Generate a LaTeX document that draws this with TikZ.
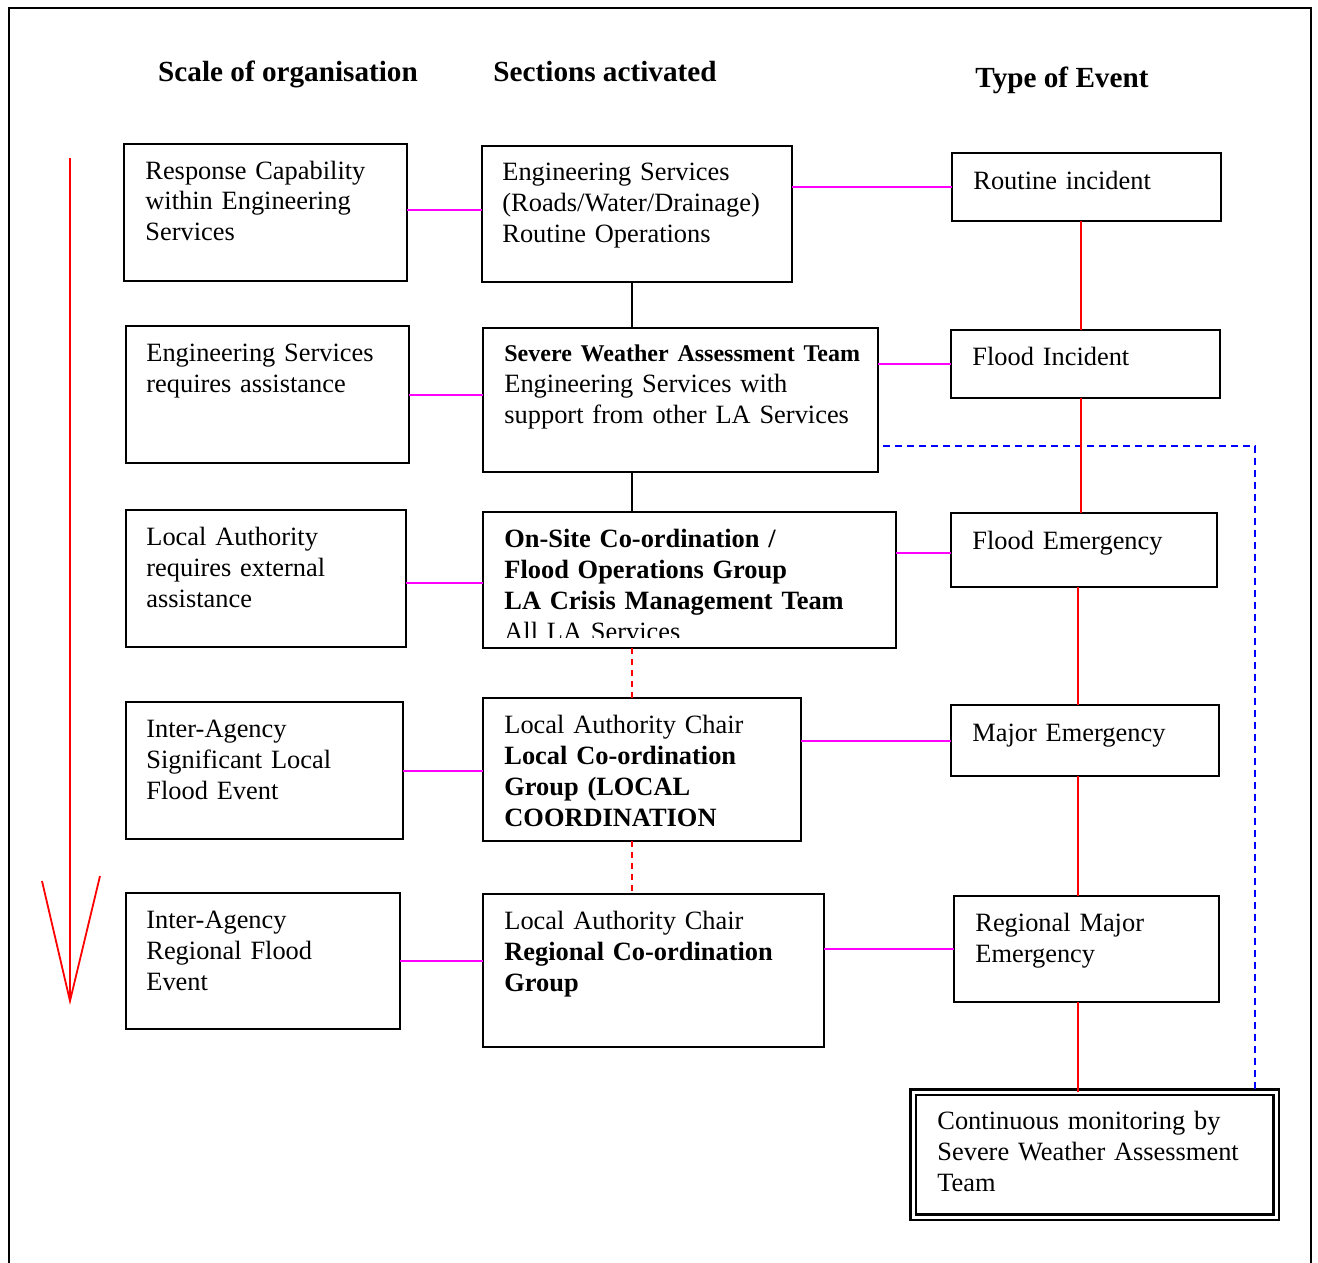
\documentclass[tikz,border=0pt]{standalone}
\usepackage{fontspec}
\setmainfont{Liberation Serif}
\usetikzlibrary{calc}
\definecolor{cLink}{RGB}{255,0,255}
\definecolor{cEvt}{RGB}{255,0,0}
\definecolor{cMon}{RGB}{0,0,255}
\newcommand{\boxfont}{\fontsize{13.2}{15.5}\selectfont}
\newcommand{\headfont}{\fontsize{14.6}{17}\selectfont\bfseries}
\tikzset{
  box/.style  ={draw=black,line width=1pt,anchor=north west,inner sep=0pt,outer sep=0pt},
  dbox/.style ={box,double=white,double distance=1.5pt,line width=1.1pt},
  txt/.style  ={anchor=base west,align=left,text width=200pt,inner sep=0pt,font=\boxfont},
  hdr/.style  ={anchor=base,inner sep=0pt,font=\headfont},
  link/.style ={draw=cLink,line width=1pt},
  stem/.style ={draw=black,line width=1pt},
  evt/.style  ={draw=cEvt,line width=0.9pt},
  rdash/.style={evt,dash pattern=on 3pt off 2.5pt},
  bdash/.style={draw=cMon,line width=0.9pt,dash pattern=on 3.5pt off 2.5pt},
}

\begin{document}
\begin{tikzpicture}[x=0.5pt,y=-0.5pt]
\useasboundingbox (0,0) rectangle (1318,1263);
\draw[line width=1.2pt] (9,1263) -- (9,8) -- (1311,8) -- (1311,1263);

% column headings
\node[hdr] (h1) at (288,82) {Scale of organisation};
\node[hdr] (h2) at (605,82) {Sections activated};
\node[hdr] (h3) at (1062,88) {Type of Event};

% scale of organisation
\node[box,minimum width=141.5pt,minimum height=68.5pt] (L1) at (124,144) {};
\node[txt] (L1t) at ([xshift=10.5pt,yshift=-17.5pt]L1.north west)
  {Response Capability\\within Engineering\\Services};
\node[box,minimum width=141.5pt,minimum height=68.5pt] (L2) at (126,326) {};
\node[txt] (L2t) at ([xshift=10pt,yshift=-17.5pt]L2.north west)
  {Engineering Services\\requires assistance};
\node[box,minimum width=140pt,minimum height=68.5pt] (L3) at (126,510) {};
\node[txt] (L3t) at ([xshift=10pt,yshift=-17.5pt]L3.north west)
  {Local Authority\\requires external\\assistance};
\node[box,minimum width=138.5pt,minimum height=68.5pt] (L4) at (126,702) {};
\node[txt] (L4t) at ([xshift=10pt,yshift=-17.5pt]L4.north west)
  {Inter-Agency\\Significant Local\\Flood Event};
\node[box,minimum width=137pt,minimum height=68pt] (L5) at (126,893) {};
\node[txt] (L5t) at ([xshift=10pt,yshift=-17.5pt]L5.north west)
  {Inter-Agency\\Regional Flood\\Event};

% sections activated
\node[box,minimum width=155pt,minimum height=68pt] (M1) at (482,146) {};
\node[txt] (M1t) at ([xshift=10pt,yshift=-17.5pt]M1.north west)
  {Engineering Services\\(Roads/Water/Drainage)\\Routine Operations};
\node[box,minimum width=197.5pt,minimum height=72pt] (M2) at (483,328) {};
\node[txt] (M2t) at ([xshift=10.5pt,yshift=-16.5pt]M2.north west)
  {{\fontsize{12}{15.5}\selectfont\bfseries Severe Weather Assessment Team}\\
   Engineering Services with\\support from other LA Services};
\node[box,minimum width=206.5pt,minimum height=68pt] (M3) at (483,512) {};
\begin{scope}
  \clip (M3.north west) rectangle ([yshift=5.5pt]M3.south east);
  \node[txt] (M3t) at ([xshift=10.5pt,yshift=-17.5pt]M3.north west)
    {\textbf{On-Site Co-ordination /}\\\textbf{Flood Operations Group}\\
     \textbf{LA Crisis Management Team}\\All LA Services};
\end{scope}
\node[box,minimum width=159pt,minimum height=71.5pt] (M4) at (483,698) {};
\node[txt] (M4t) at ([xshift=10.5pt,yshift=-17.5pt]M4.north west)
  {Local Authority Chair\\\textbf{Local Co-ordination}\\\textbf{Group (LOCAL}\\
   \textbf{COORDINATION}};
\node[box,minimum width=170.5pt,minimum height=76.5pt] (M5) at (483,894) {};
\node[txt] (M5t) at ([xshift=10.5pt,yshift=-17.5pt]M5.north west)
  {Local Authority Chair\\\textbf{Regional Co-ordination}\\\textbf{Group}};

% type of event
\node[box,minimum width=134.5pt,minimum height=34pt] (R1) at (952,153) {};
\node[txt] (R1t) at ([xshift=10.5pt,yshift=-18.5pt]R1.north west) {Routine incident};
\node[box,minimum width=134.5pt,minimum height=34pt] (R2) at (951,330) {};
\node[txt] (R2t) at ([xshift=10.5pt,yshift=-17.5pt]R2.north west) {Flood Incident};
\node[box,minimum width=133pt,minimum height=37pt] (R3) at (951,513) {};
\node[txt] (R3t) at ([xshift=10.5pt,yshift=-18pt]R3.north west) {Flood Emergency};
\node[box,minimum width=134pt,minimum height=35.5pt] (R4) at (951,705) {};
\node[txt] (R4t) at ([xshift=10.5pt,yshift=-18pt]R4.north west) {Major Emergency};
\node[box,minimum width=132.5pt,minimum height=53pt] (R5) at (954,896) {};
\node[txt] (R5t) at ([xshift=10.5pt,yshift=-17.5pt]R5.north west)
  {Regional Major\\Emergency};
\node[dbox,minimum width=181.5pt,minimum height=62.5pt] (R6) at (913,1092) {};
\node[txt] (R6t) at ([xshift=12pt,yshift=-18.5pt]R6.north west)
  {Continuous monitoring by\\Severe Weather Assessment\\Team};

% scale arrow
\coordinate (sTop) at (70,158);
\coordinate (sTip) at (70,1001);
\draw[evt] (sTop) -- (sTip);
\draw[evt,line join=miter] (42,881) -- (sTip) -- (100,876);

% magenta links
\draw[link] ([yshift=1.2pt]L1.east) -- ([yshift=1.2pt]L1.east -| M1.west);
\draw[link] (L2.east) -- (L2.east -| M2.west);
\draw[link] ([yshift=-2.2pt]L3.east) -- ([yshift=-2.2pt]L3.east -| M3.west);
\draw[link] (L4.east) -- (L4.east -| M4.west);
\draw[link] (L5.east) -- (L5.east -| M5.west);
\draw[link] (M1.east |- R1.west) -- (R1.west);
\draw[link] (M2.east |- R2.west) -- (R2.west);
\draw[link] ([yshift=-1.5pt]M3.east |- R3.west) -- ([yshift=-1.5pt]R3.west);
\draw[link] (M4.east |- R4.west) -- (R4.west);
\draw[link] (M5.east |- R5.west) -- (R5.west);

% middle column stems
\coordinate (mx) at (632,0);
\draw[stem] (M1.south -| mx) -- (M2.north -| mx);
\draw[stem] (M2.south -| mx) -- (M3.north -| mx);
\draw[rdash] (M3.south -| mx) -- (M4.north -| mx);
\draw[rdash] (M4.south -| mx) -- (M5.north -| mx);

% monitoring loop
\coordinate (bturn) at (1255,446);
\draw[bdash] ([xshift=2.5pt]M2.east |- bturn) -- (bturn) -- (R6.north -| bturn);

% event chain
\coordinate (ra) at (1081,0);
\coordinate (rb) at (1078,0);
\draw[evt] (R1.south -| ra) -- (R2.north -| ra);
\draw[evt] (R2.south -| ra) -- (R3.north -| ra);
\draw[evt] (R3.south -| rb) -- (R4.north -| rb);
\draw[evt] (R4.south -| rb) -- (R5.north -| rb);
\draw[evt] (R5.south -| rb) -- (R6.north -| rb);
\end{tikzpicture}
\end{document}
